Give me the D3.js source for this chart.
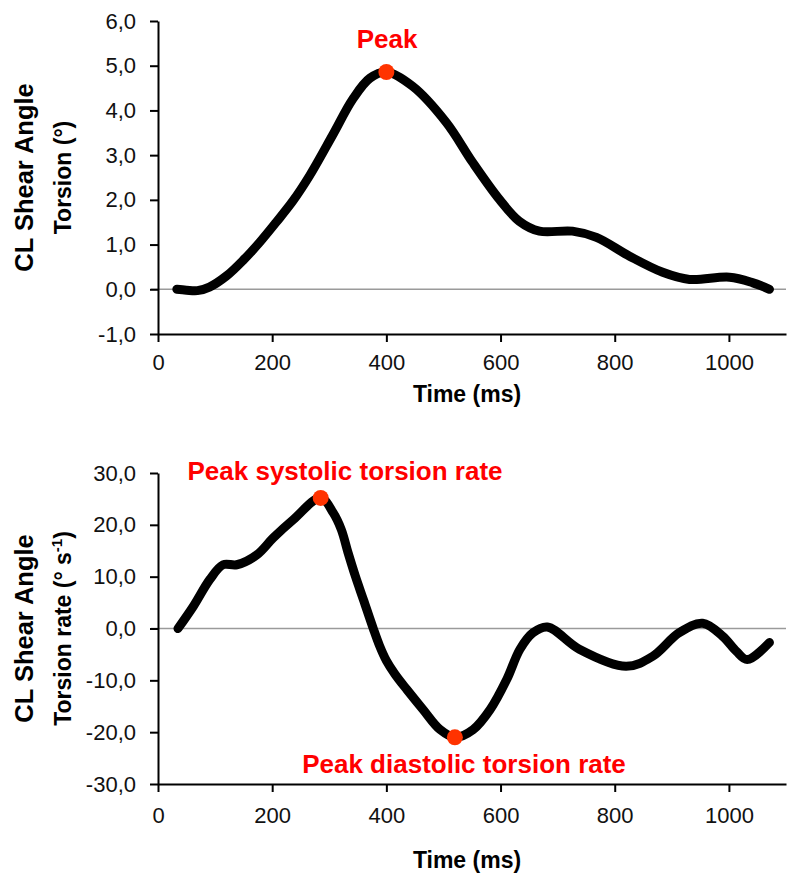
<!DOCTYPE html>
<html>
<head>
<meta charset="utf-8">
<script src="https://cdn.jsdelivr.net/npm/d3@7"></script>
<style>
  html, body { margin: 0; padding: 0; background: #fff; }
  svg { display: block; font-family: "Liberation Sans", Arial, Helvetica, sans-serif; }
</style>
</head>
<body>
<svg id="chart" width="800" height="889"></svg>
<script>
// ---- Data ----
const xTicks = [0, 200, 400, 600, 800, 1000];
const torsionTicks = [-1, 0, 1, 2, 3, 4, 5, 6];
const rateTicks = [-30, -20, -10, 0, 10, 20, 30];

const torsionTime = [33, 50, 69, 90, 120, 150, 178, 207, 236, 266, 306, 341, 371, 400, 446, 505, 551, 598, 633, 668, 726, 768, 826, 884, 931, 1001, 1041, 1071];
const torsionVal  = [0, -0.02, -0.03, 0.05, 0.3, 0.66, 1.05, 1.5, 1.97, 2.55, 3.45, 4.25, 4.72, 4.86, 4.54, 3.73, 2.84, 2.01, 1.52, 1.3, 1.3, 1.16, 0.74, 0.38, 0.22, 0.27, 0.15, 0.0];

const rateTime = [35, 62, 91, 114, 138, 173, 202, 237, 285, 307, 321, 333, 346, 360, 377, 388, 400, 415, 436, 464, 494, 520, 552, 582, 611, 634, 657, 682, 738, 820, 866, 913, 954, 989, 1013, 1032, 1071];
const rateVal  = [0, 4.3, 9.5, 12.3, 12.3, 14.2, 17.5, 21, 25.2, 22.3, 19.1, 14.6, 10, 5.5, 0, -3.3, -6.2, -8.8, -11.8, -15.6, -19.5, -21, -19.5, -15.6, -9.8, -4, -0.8, 0.3, -4, -7.3, -5.4, -0.8, 1, -1.5, -4.4, -6, -2.7];

const torsionPeak = { t: 400, v: 4.86, label: "Peak" };
const systolicPeak = { t: 285, v: 25.2, label: "Peak systolic torsion rate" };
const diastolicPeak = { t: 520, v: -21, label: "Peak diastolic torsion rate" };

// ---- Drawing ----
const svg = d3.select("#chart");
const fmt = v => v.toFixed(1).replace(".", ",");
const RED = "#ff0000";
const DOT = "#ff3300";

function panel(opts) {
  const g = svg.append("g");
  const x = d3.scaleLinear().domain([0, 1100]).range([158, 786]);
  const y = d3.scaleLinear().domain(opts.yDomain).range(opts.yRange);

  // zero line
  g.append("line")
    .attr("x1", x(0) - 7).attr("x2", x(1100))
    .attr("y1", y(0)).attr("y2", y(0))
    .attr("stroke", "#9a9a9a").attr("stroke-width", 1.5);

  // axes
  const ax = g.append("g")
    .attr("transform", `translate(0,${y(opts.yDomain[0])})`)
    .call(d3.axisBottom(x).tickValues(xTicks).tickFormat(d3.format("d")).tickSize(8).tickSizeOuter(0).tickPadding(opts.xPad));
  const ay = g.append("g")
    .attr("transform", `translate(${x(0)},0)`)
    .call(d3.axisLeft(y).tickValues(opts.yTicks).tickFormat(fmt).tickSize(8).tickSizeOuter(0).tickPadding(14));
  [ax, ay].forEach(a => {
    a.select(".domain").attr("stroke", "#000").attr("stroke-width", 2);
    a.selectAll(".tick line").attr("stroke", "#000").attr("stroke-width", 2);
    a.selectAll(".tick text").attr("fill", "#111").style("font-size", "22px");
  });

  // x label
  g.append("text")
    .attr("x", 467).attr("y", opts.xLabelY)
    .attr("text-anchor", "middle")
    .style("font-size", "23px").style("font-weight", "bold")
    .text("Time (ms)");

  // y labels
  const cy = (opts.yRange[0] + opts.yRange[1]) / 2;
  g.append("text")
    .attr("transform", `translate(33,${cy}) rotate(-90)`)
    .attr("text-anchor", "middle")
    .style("font-size", "25.5px").style("font-weight", "bold")
    .text("CL Shear Angle");
  const t2 = g.append("text")
    .attr("transform", `translate(71,${cy}) rotate(-90)`)
    .attr("text-anchor", "middle")
    .style("font-size", "23px").style("font-weight", "bold");
  opts.yLabel(t2);

  // curve
  const data = opts.time.map((t, i) => ({ t, v: opts.vals[i] }));
  const line = d3.line().x(d => x(d.t)).y(d => y(d.v)).curve(d3.curveCatmullRom.alpha(0.5));
  g.append("path")
    .datum(data)
    .attr("d", line)
    .attr("fill", "none")
    .attr("stroke", "#000")
    .attr("stroke-width", 9)
    .attr("stroke-linecap", "round")
    .attr("stroke-linejoin", "round");

  // peaks
  opts.peaks.forEach(p => {
    g.append("circle")
      .attr("cx", x(p.pt.t)).attr("cy", y(p.pt.v)).attr("r", 8)
      .attr("fill", DOT);
    g.append("text")
      .attr("x", p.lx).attr("y", p.ly)
      .attr("text-anchor", "middle")
      .attr("fill", RED)
      .style("font-size", "26px").style("font-weight", "bold")
      .text(p.pt.label);
  });
}

panel({
  yDomain: [-1, 6], yRange: [334, 21], yTicks: torsionTicks,
  time: torsionTime, vals: torsionVal, xLabelY: 402, xPad: 12,
  yLabel: t => t.text("Torsion (°)"),
  peaks: [{ pt: torsionPeak, lx: 387, ly: 48 }]
});

panel({
  yDomain: [-30, 30], yRange: [784, 473], yTicks: rateTicks,
  time: rateTime, vals: rateVal, xLabelY: 868, xPad: 15,
  yLabel: t => {
    t.append("tspan").text("Torsion rate (° s");
    t.append("tspan").attr("dy", -9).style("font-size", "15px").text("-1");
    t.append("tspan").attr("dy", 9).text(")");
  },
  peaks: [{ pt: systolicPeak, lx: 345, ly: 480 }, { pt: diastolicPeak, lx: 464, ly: 773 }]
});
</script>
</body>
</html>
